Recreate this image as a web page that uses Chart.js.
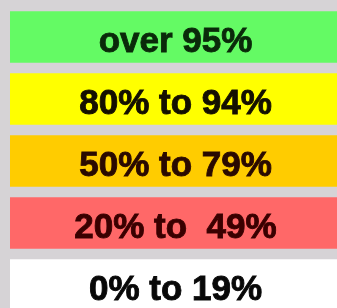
<!DOCTYPE html>
<html>
<head>
<meta charset="utf-8">
<script src="https://cdn.jsdelivr.net/npm/chart.js@4"></script>
<style>
html,body{margin:0;padding:0;background:#d6d3d6;overflow:hidden;}
#wrap{width:337px;height:316px;position:relative;}
</style>
</head>
<body>
<div id="wrap"><canvas id="c"></canvas></div>
<script>
const categories = ["over 95%", "80% to 94%", "50% to 79%", "20% to  49%", "0% to 19%"];
const values = [1, 1, 1, 1, 1];
const barColors = ["#64fa64", "#ffff00", "#ffcc00", "#ff6868", "#ffffff"];
const textColors = ["#0a2a0a", "#141000", "#2a0a00", "#3a0000", "#080808"];

const labelPlugin = {
  id: 'bandLabels',
  afterDatasetsDraw(chart) {
    const ctx = chart.ctx;
    const meta = chart.getDatasetMeta(0);
    const area = chart.chartArea;
    const cx = (area.left + area.right) / 2 + 2;
    ctx.save();
    ctx.font = 'bold 35px "Liberation Sans", Arial, sans-serif';
    ctx.textAlign = 'center';
    ctx.textBaseline = 'alphabetic';
    ctx.lineWidth = 0.9;
    ctx.lineJoin = 'miter';
    meta.data.forEach((bar, i) => {
      ctx.fillStyle = textColors[i];
      ctx.strokeStyle = textColors[i];
      ctx.fillText(chart.data.labels[i], cx, bar.y + 15);
      ctx.strokeText(chart.data.labels[i], cx, bar.y + 15);
    });
    ctx.restore();
  }
};

new Chart(document.getElementById('c'), {
  type: 'bar',
  data: {
    labels: categories,
    datasets: [{
      data: values,
      backgroundColor: barColors,
      borderWidth: 0,
      barPercentage: 0.83,
      categoryPercentage: 1
    }]
  },
  options: {
    indexAxis: 'y',
    responsive: true,
    maintainAspectRatio: false,
    animation: false,
    layout: { padding: { left: 10, top: 6, right: 0, bottom: 0 } },
    plugins: { legend: { display: false }, tooltip: { enabled: false } },
    scales: {
      x: { display: false, min: 0, max: 1 },
      y: { display: false }
    }
  },
  plugins: [labelPlugin]
});
</script>
</body>
</html>
